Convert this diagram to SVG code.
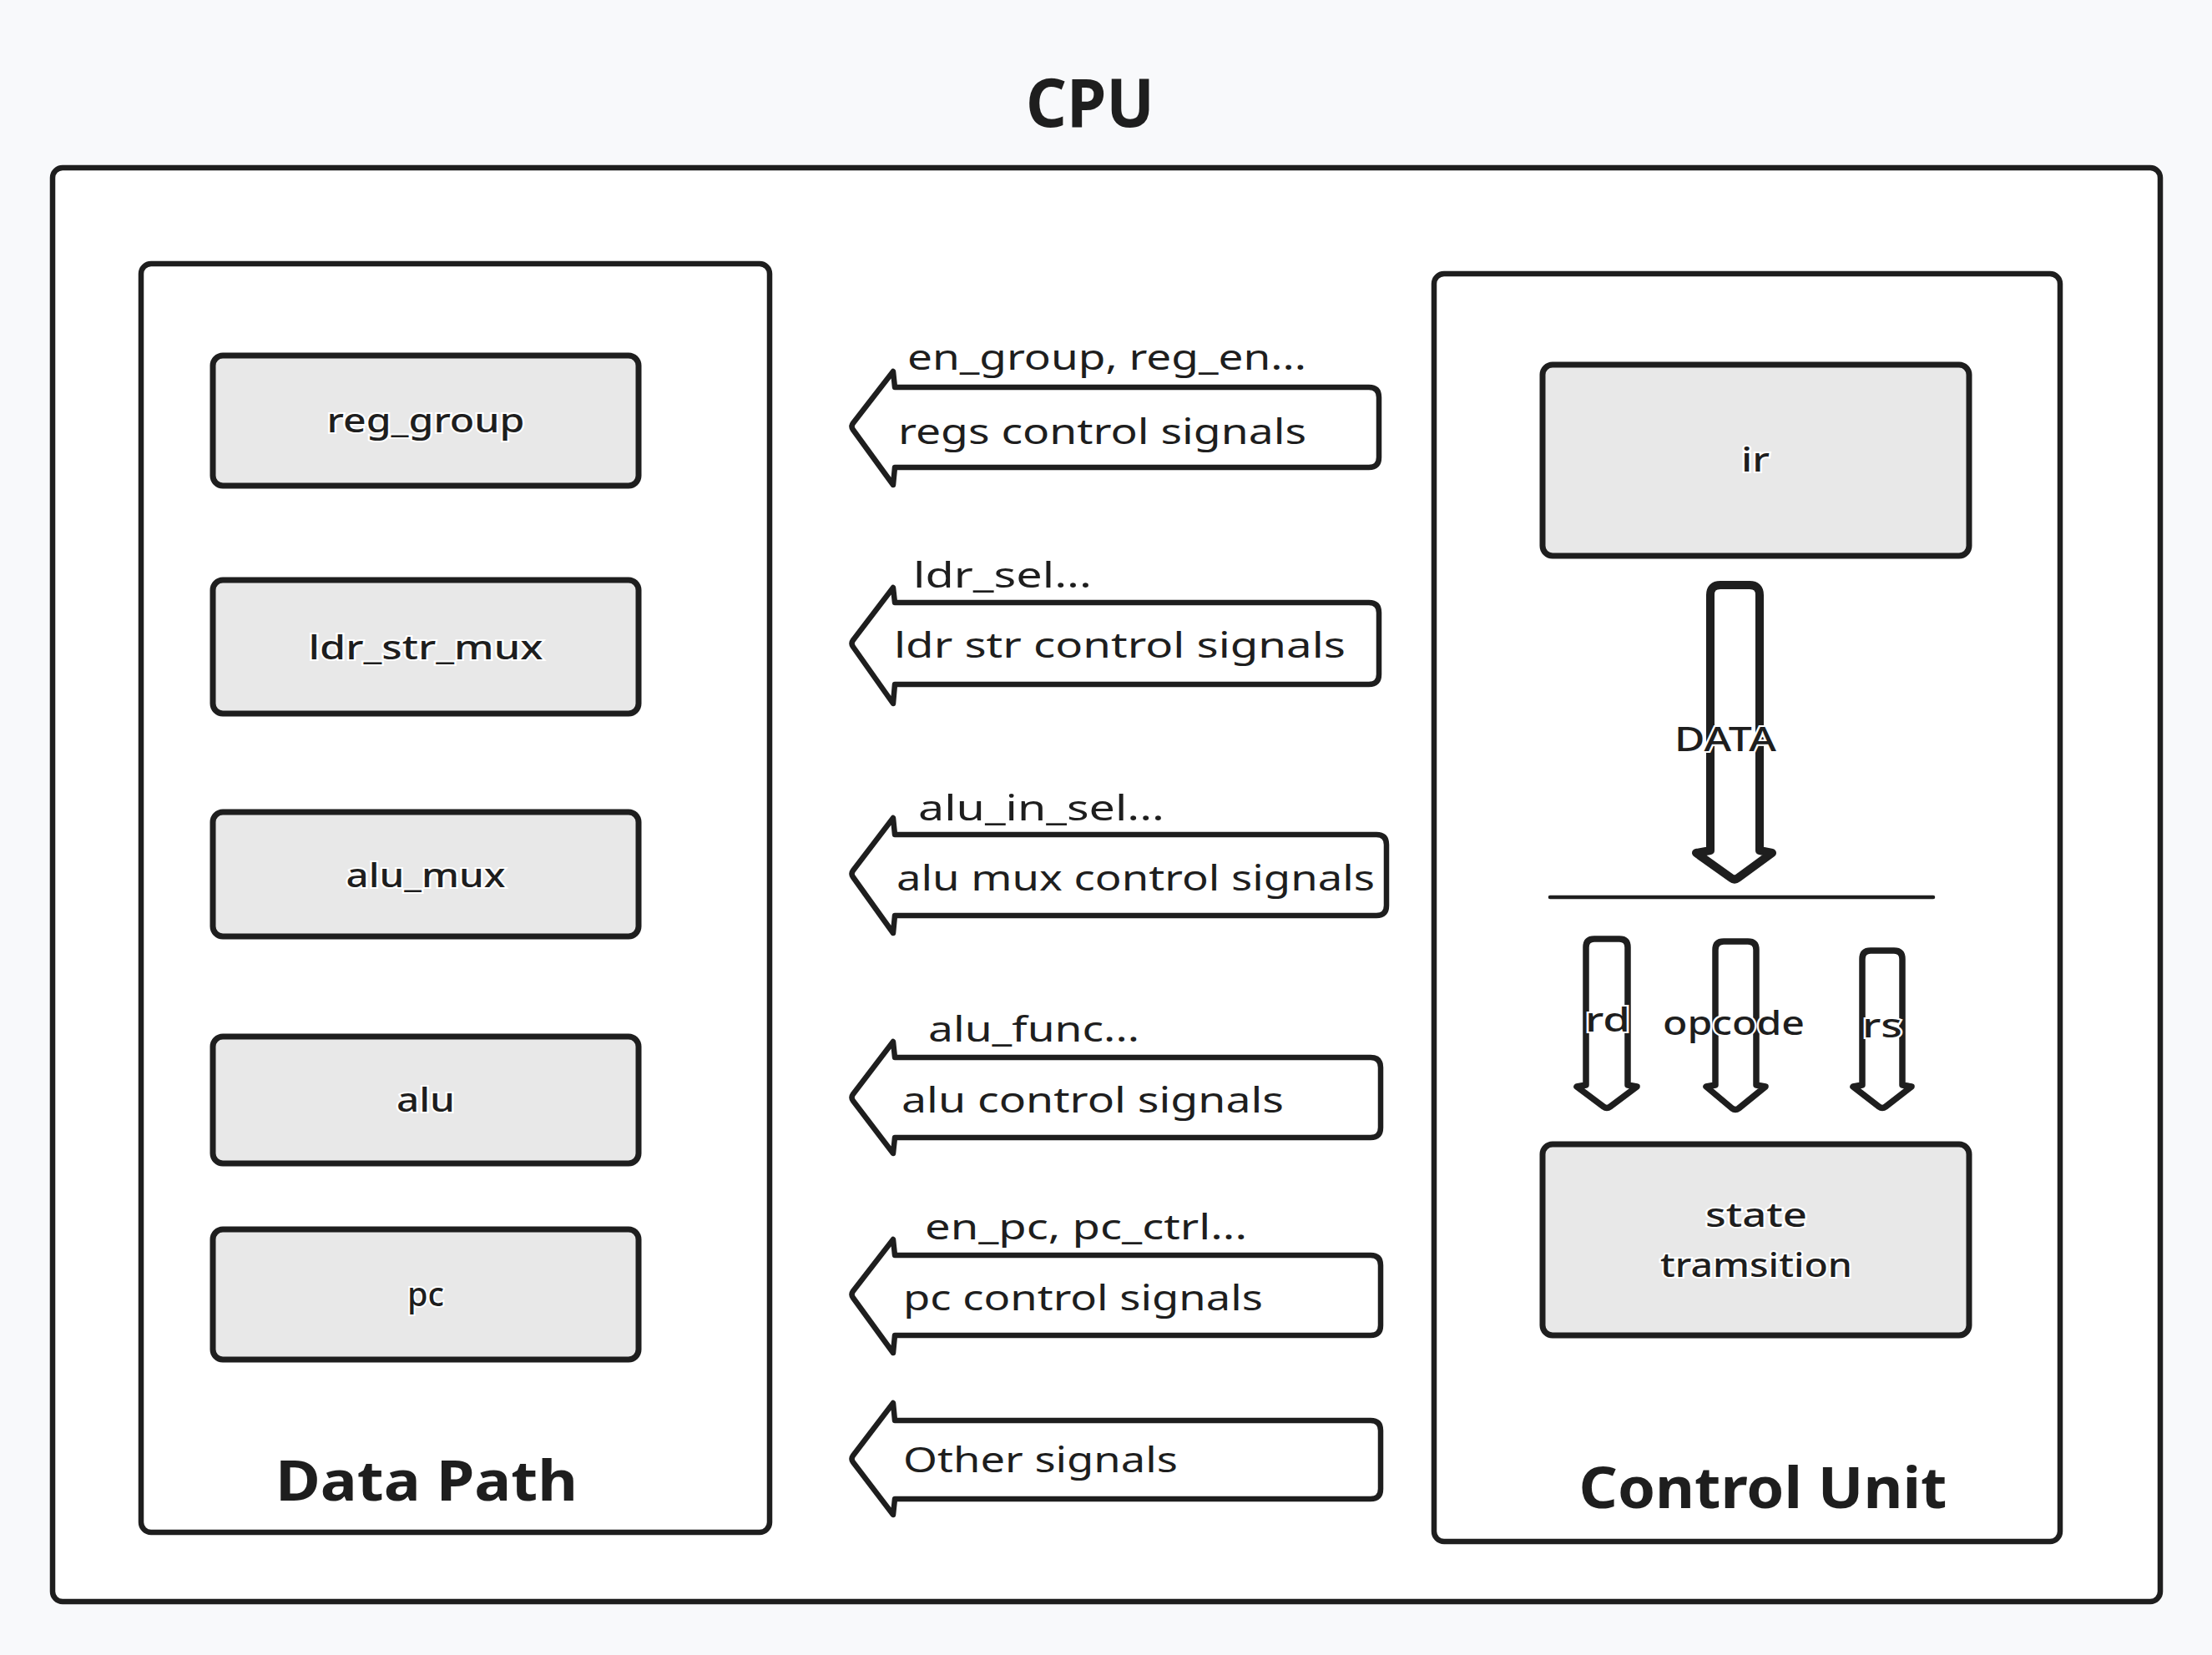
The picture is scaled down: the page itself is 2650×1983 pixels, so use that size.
<svg xmlns="http://www.w3.org/2000/svg" width="2650" height="1983" viewBox="0 0 2650 1983">
<style>
  .frame { fill: #ffffff; stroke: #1e1e1e; stroke-width: 6.5; }
  .box { fill: #e8e8e8; stroke: #1e1e1e; stroke-width: 7; }
  .sig { fill: #ffffff; stroke: #1e1e1e; stroke-width: 6.5; stroke-linejoin: round; }
  .down { fill: #ffffff; stroke: #1e1e1e; stroke-width: 7.5; stroke-linejoin: round; }
  .t { font-family: "Noto Sans", "Liberation Sans", sans-serif; fill: #1e1e1e; }
  .lbl { font-size: 42px; }
  .boxlbl { font-size: 40px; font-weight: 500; text-anchor: middle; stroke: #ffffff; stroke-width: 4; paint-order: stroke; }
  .title { font-weight: 700; text-anchor: middle; }
</style>
<rect x="0" y="0" width="2650" height="1983" fill="#f8f9fb"/>

<g id="cpu">
  <rect class="frame" x="63" y="201" width="2525" height="1718" rx="12"/>
  <text class="t title" x="1306" y="152" font-size="80" textLength="154" lengthAdjust="spacingAndGlyphs">CPU</text>
</g>

<g id="data-path">
  <rect class="frame" x="169" y="316" width="753" height="1520" rx="12"/>
  <text class="t title" x="511" y="1798" font-size="66" textLength="362" lengthAdjust="spacingAndGlyphs">Data Path</text>
</g>

<g id="reg_group">
  <rect class="box" x="255" y="426" width="510" height="156" rx="12"/>
  <text class="t boxlbl" x="510" y="518" textLength="237" lengthAdjust="spacingAndGlyphs">reg_group</text>
</g>
<g id="ldr_str_mux">
  <rect class="box" x="255" y="695" width="510" height="160" rx="12"/>
  <text class="t boxlbl" x="510" y="790" textLength="281" lengthAdjust="spacingAndGlyphs">ldr_str_mux</text>
</g>
<g id="alu_mux">
  <rect class="box" x="255" y="973" width="510" height="149" rx="12"/>
  <text class="t boxlbl" x="510" y="1063" textLength="191" lengthAdjust="spacingAndGlyphs">alu_mux</text>
</g>
<g id="alu">
  <rect class="box" x="255" y="1242" width="510" height="152" rx="12"/>
  <text class="t boxlbl" x="510" y="1332" textLength="70" lengthAdjust="spacingAndGlyphs">alu</text>
</g>
<g id="pc">
  <rect class="box" x="255" y="1473" width="510" height="156" rx="12"/>
  <text class="t boxlbl" x="510" y="1565" textLength="44" lengthAdjust="spacingAndGlyphs">pc</text>
</g>

<g id="control-unit">
  <rect class="frame" x="1718" y="328" width="750" height="1519" rx="12"/>
  <text class="t title" x="2112" y="1807" font-size="68" textLength="441" lengthAdjust="spacingAndGlyphs">Control Unit</text>
</g>

<g id="ir">
  <rect class="box" x="1848" y="437" width="511" height="229" rx="12"/>
  <text class="t boxlbl" x="2103" y="565" textLength="34" lengthAdjust="spacingAndGlyphs">ir</text>
</g>

<g id="state-transition">
  <rect class="box" x="1848" y="1371" width="511" height="229" rx="12"/>
  <text class="t boxlbl" x="2104" y="1470" textLength="122" lengthAdjust="spacingAndGlyphs">state</text>
  <text class="t boxlbl" x="2104" y="1530" textLength="230" lengthAdjust="spacingAndGlyphs">tramsition</text>
</g>

<g id="connectors">
  <!-- signal arrows pointing left -->
  <g id="sig-regs">
    <path class="sig" d="M1072,464 L1640,464 Q1652,464 1652,476 L1652,548 Q1652,560 1640,560 L1072,560 L1070,581 L1022,515 Q1019,511 1022,507 L1070,445 Z"/>
    <text class="t lbl" x="1087" y="443" textLength="478" lengthAdjust="spacingAndGlyphs">en_group, reg_en...</text>
    <text class="t lbl" x="1076" y="532" textLength="489" lengthAdjust="spacingAndGlyphs">regs control signals</text>
  </g>
  <g id="sig-ldr-str">
    <path class="sig" d="M1072,722 L1640,722 Q1652,722 1652,734 L1652,808 Q1652,820 1640,820 L1072,820 L1070,843 L1022,775 Q1019,771 1022,767 L1070,704 Z"/>
    <text class="t lbl" x="1094" y="704" textLength="214" lengthAdjust="spacingAndGlyphs">ldr_sel...</text>
    <text class="t lbl" x="1071" y="788" textLength="541" lengthAdjust="spacingAndGlyphs">ldr str control signals</text>
  </g>
  <g id="sig-alu-mux">
    <path class="sig" d="M1072,1000 L1649,1000 Q1661,1000 1661,1012 L1661,1085 Q1661,1097 1649,1097 L1072,1097 L1070,1118 L1022,1051 Q1019,1047 1022,1043 L1070,980 Z"/>
    <text class="t lbl" x="1100" y="983" textLength="295" lengthAdjust="spacingAndGlyphs">alu_in_sel...</text>
    <text class="t lbl" x="1074" y="1067" textLength="573" lengthAdjust="spacingAndGlyphs">alu mux control signals</text>
  </g>
  <g id="sig-alu">
    <path class="sig" d="M1072,1267 L1642,1267 Q1654,1267 1654,1279 L1654,1351 Q1654,1363 1642,1363 L1072,1363 L1070,1382 L1022,1319 Q1019,1315 1022,1311 L1070,1248 Z"/>
    <text class="t lbl" x="1112" y="1248" textLength="253" lengthAdjust="spacingAndGlyphs">alu_func...</text>
    <text class="t lbl" x="1080" y="1333" textLength="458" lengthAdjust="spacingAndGlyphs">alu control signals</text>
  </g>
  <g id="sig-pc">
    <path class="sig" d="M1072,1504 L1642,1504 Q1654,1504 1654,1516 L1654,1588 Q1654,1600 1642,1600 L1072,1600 L1070,1621 L1022,1555 Q1019,1551 1022,1547 L1070,1485 Z"/>
    <text class="t lbl" x="1108" y="1485" textLength="386" lengthAdjust="spacingAndGlyphs">en_pc, pc_ctrl...</text>
    <text class="t lbl" x="1082" y="1570" textLength="431" lengthAdjust="spacingAndGlyphs">pc control signals</text>
  </g>
  <g id="sig-other">
    <path class="sig" d="M1072,1702 L1642,1702 Q1654,1702 1654,1714 L1654,1784 Q1654,1796 1642,1796 L1072,1796 L1070,1815 L1022,1752 Q1019,1748 1022,1744 L1070,1681 Z"/>
    <text class="t lbl" x="1082" y="1764" textLength="329" lengthAdjust="spacingAndGlyphs">Other signals</text>
  </g>

  <!-- ir to decode -->
  <g id="data-arrow">
    <path class="down" style="stroke-width:10" d="M2049,1019 L2049,713 Q2049,701 2061,701 L2096,701 Q2108,701 2108,713 L2108,1019 L2123,1022 L2082,1052 Q2078,1055 2074,1052 L2032,1022 Z"/>
    <text class="t boxlbl" x="2067" y="900" font-size="38" font-weight="700" textLength="122" lengthAdjust="spacingAndGlyphs">DATA</text>
  </g>
  <line x1="1857" y1="1075" x2="2316" y2="1075" stroke="#1e1e1e" stroke-width="4.5" stroke-linecap="round"/>
  <g id="rd-arrow">
    <path class="down" d="M1900,1300 L1900,1135 Q1900,1125 1910,1125 L1940,1125 Q1950,1125 1950,1135 L1950,1300 L1961,1302 L1929,1326 Q1925,1329 1921,1326 L1889,1302 Z"/>
    <text class="t boxlbl" x="1926" y="1236" textLength="54" lengthAdjust="spacingAndGlyphs">rd</text>
  </g>
  <g id="opcode-arrow">
    <path class="down" d="M2055,1300 L2055,1138 Q2055,1128 2065,1128 L2094,1128 Q2104,1128 2104,1138 L2104,1300 L2115,1302 L2083,1328 Q2079,1331 2075,1328 L2044,1302 Z"/>
    <text class="t boxlbl" x="2077" y="1240" textLength="170" lengthAdjust="spacingAndGlyphs">opcode</text>
  </g>
  <g id="rs-arrow">
    <path class="down" d="M2231,1300 L2231,1149 Q2231,1139 2241,1139 L2269,1139 Q2279,1139 2279,1149 L2279,1300 L2290,1302 L2259,1326 Q2255,1329 2251,1326 L2220,1302 Z"/>
    <text class="t boxlbl" x="2255" y="1243" textLength="48" lengthAdjust="spacingAndGlyphs">rs</text>
  </g>
</g>
</svg>
